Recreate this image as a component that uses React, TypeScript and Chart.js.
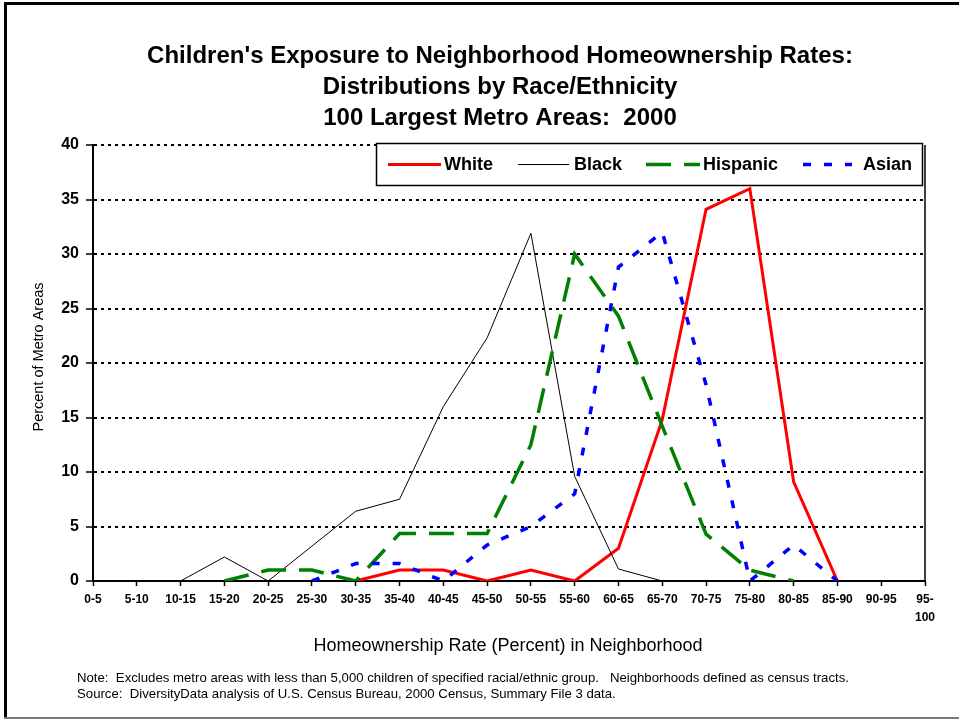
import React, { useEffect, useRef } from "react";
import { Chart, registerables } from "chart.js";

Chart.register(...registerables);

const FONT = '"Liberation Sans", Arial, Helvetica, sans-serif';

const categories: (string | string[])[] = [
  "0-5", "5-10", "10-15", "15-20", "20-25", "25-30", "30-35", "35-40", "40-45", "45-50",
  "50-55", "55-60", "60-65", "65-70", "70-75", "75-80", "80-85", "85-90", "90-95", ["95-", "100"],
];

const whiteValues = [null, null, null, null, null, null, 0, 1, 1, 0, 1, 0, 3, 14.8, 34.1, 36, 9.1, 0, null, null];
const blackValues = [null, null, 0, 2.2, 0, 3.2, 6.4, 7.5, 16, 22.3, 31.9, 9.6, 1.1, 0, null, null, null, null, null, null];
const hispanicValues = [null, null, null, 0, 1, 1, 0, 4.35, 4.35, 4.35, 12.5, 30, 24.3, 14.2, 4.3, 1, 0, null, null, null];
const asianValues = [null, null, null, null, null, 0, 1.6, 1.6, 0, 3.3, 5, 8, 28.8, 32, 18, 0, 3.3, 0, null, null];

const seriesNames = ["White", "Black", "Hispanic", "Asian"];
const seriesColors = ["#FF0000", "#000000", "#008000", "#0000FF"];
const seriesWidths = [3, 1, 3.5, 3.5];
const seriesDashes: number[][] = [[], [], [25, 13], [8, 13]];

const titleLines = [
  "Children's Exposure to Neighborhood Homeownership Rates:",
  "Distributions by Race/Ethnicity",
  "100 Largest Metro Areas:  2000",
];
const xAxisTitle = "Homeownership Rate (Percent) in Neighborhood";
const yAxisTitle = "Percent of Metro Areas";
const noteLines = [
  "Note:  Excludes metro areas with less than 5,000 children of specified racial/ethnic group.   Neighborhoods defined as census tracts.",
  "Source:  DiversityData analysis of U.S. Census Bureau, 2000 Census, Summary File 3 data.",
];

const decorPlugin = {
  id: "decor",
  afterDraw(chart: any) {
    const ctx: CanvasRenderingContext2D = chart.ctx;
    const area = chart.chartArea;
    ctx.save();

    // outer frame
    ctx.fillStyle = "#000";
    ctx.fillRect(4, 2, 955, 3);
    ctx.fillRect(4, 2, 3, 716);
    ctx.fillStyle = "#7a7a7a";
    ctx.fillRect(4, 717, 955, 2);

    // plot right border
    ctx.strokeStyle = "#000";
    ctx.lineWidth = 1.5;
    ctx.setLineDash([]);
    ctx.beginPath();
    ctx.moveTo(area.right, area.top);
    ctx.lineTo(area.right, area.bottom);
    ctx.stroke();

    // title
    ctx.fillStyle = "#000";
    ctx.textAlign = "center";
    ctx.textBaseline = "middle";
    ctx.font = `bold 24px ${FONT}`;
    const titleY = [56, 87, 118];
    titleLines.forEach((t, i) => ctx.fillText(t, 500, titleY[i]));

    // x axis title
    ctx.font = `18px ${FONT}`;
    ctx.fillText(xAxisTitle, 508, 646);

    // y axis title
    ctx.save();
    ctx.translate(39, 357);
    ctx.rotate(-Math.PI / 2);
    ctx.font = `14.5px ${FONT}`;
    ctx.fillText(yAxisTitle, 0, 0);
    ctx.restore();

    // notes
    ctx.textAlign = "left";
    ctx.font = `13.2px ${FONT}`;
    const noteY = [678, 694];
    noteLines.forEach((t, i) => ctx.fillText(t, 77, noteY[i]));

    // legend
    ctx.fillStyle = "#fff";
    ctx.fillRect(376, 143, 547, 43);
    ctx.strokeStyle = "#000";
    ctx.lineWidth = 1.5;
    ctx.strokeRect(376.5, 143.5, 546, 42);
    const sampleX = [[388, 441], [518, 569], [646, 700], [803, 852]];
    const textX = [444, 574, 703, 863];
    const ly = 164.5;
    ctx.font = `bold 18px ${FONT}`;
    seriesNames.forEach((name, i) => {
      ctx.strokeStyle = seriesColors[i];
      ctx.lineWidth = seriesWidths[i];
      ctx.setLineDash(seriesDashes[i]);
      ctx.beginPath();
      ctx.moveTo(sampleX[i][0], ly);
      ctx.lineTo(sampleX[i][1], ly);
      ctx.stroke();
      ctx.setLineDash([]);
      ctx.fillStyle = "#000";
      ctx.fillText(name, textX[i], 165);
    });

    ctx.restore();
  },
};

export default function App() {
  const ref = useRef<HTMLCanvasElement>(null);

  useEffect(() => {
    document.body.style.margin = "0";
    const seriesValues = [whiteValues, blackValues, hispanicValues, asianValues];
    const chart = new Chart(ref.current as HTMLCanvasElement, {
      type: "line",
      data: {
        labels: categories as any,
        datasets: seriesNames.map((name, i) => ({
          label: name,
          data: seriesValues[i] as any,
          borderColor: seriesColors[i],
          backgroundColor: seriesColors[i],
          borderWidth: seriesWidths[i],
          borderDash: seriesDashes[i],
          borderCapStyle: "butt",
          borderJoinStyle: "miter",
          pointRadius: 0,
          pointHoverRadius: 0,
          tension: 0,
          fill: false,
          spanGaps: false,
          order: 4 - i,
        })),
      },
      options: {
        responsive: false,
        animation: false,
        devicePixelRatio: 1,
        events: [],
        layout: { padding: { left: 0, top: 145, right: 34, bottom: 0 } },
        plugins: {
          legend: { display: false },
          title: { display: false },
          tooltip: { enabled: false },
        },
        scales: {
          x: {
            type: "category",
            offset: false,
            afterFit: (scale: any) => {
              scale.height = 139;
            },
            grid: {
              display: true,
              drawOnChartArea: false,
              drawTicks: true,
              tickLength: 5,
              tickColor: "#000",
              tickWidth: 1.5,
            },
            border: { display: true, color: "#000", width: 2 },
            ticks: {
              color: "#000",
              autoSkip: false,
              maxRotation: 0,
              minRotation: 0,
              padding: 5,
              font: { family: FONT, size: 12, weight: "bold", lineHeight: 1.5 },
            },
          },
          y: {
            min: 0,
            max: 40,
            afterFit: (scale: any) => {
              scale.width = 93;
            },
            grid: {
              display: true,
              drawOnChartArea: true,
              drawTicks: true,
              color: "#000",
              lineWidth: 2,
              tickLength: 7,
              tickColor: "#000",
              tickWidth: 1.5,
              tickBorderDash: [],
            },
            border: { display: true, color: "#000", width: 2, dash: [3, 4] },
            ticks: {
              color: "#000",
              stepSize: 5,
              padding: 7,
              font: { family: FONT, size: 16, weight: "bold" },
            },
          },
        },
      },
      plugins: [decorPlugin],
    } as any);
    return () => chart.destroy();
  }, []);

  return (
    <div style={{ width: 959, height: 720, position: "relative", background: "#fff" }}>
      <canvas ref={ref} width={959} height={720} style={{ display: "block" }} />
    </div>
  );
}
